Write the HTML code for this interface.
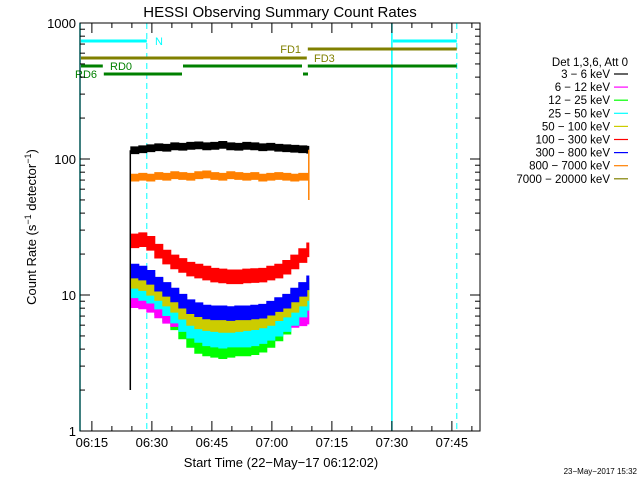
<!DOCTYPE html>
<html><head><meta charset="utf-8"><style>
body{margin:0;background:#fff;}
svg{display:block;font-family:"Liberation Sans",sans-serif;}
</style></head><body>
<svg id="chart" width="640" height="480" viewBox="0 0 640 480" xmlns="http://www.w3.org/2000/svg">
<rect x="0" y="0" width="640" height="480" fill="#fff"/>
<text x="280" y="17" font-size="15" text-anchor="middle">HESSI Observing Summary Count Rates</text>
<g id="marks"></g>
<g id="axes"></g>
<text transform="translate(36,227) rotate(-90)" font-size="13" text-anchor="middle">Count Rate (s<tspan dy="-5" font-size="9">−1</tspan><tspan dy="5"> detector</tspan><tspan dy="-5" font-size="9">−1</tspan><tspan dy="5">)</tspan></text>
<text x="281" y="467" font-size="13" text-anchor="middle">Start Time (22−May−17 06:12:02)</text>
<text x="637" y="474" font-size="8" text-anchor="end">23−May−2017 15:32</text>
<g id="legend"></g>
</svg>
<script>
// ---- data ----
const sampleTimes = [12.7,14.7,16.7,18.7,20.7,22.7,24.7,26.7,28.7,30.7,32.7,34.7,36.7,38.7,40.7,42.7,44.7,46.7,48.7,50.7,52.7,54.7,56.7]; // minutes since 06:12:02
const rate3to6 = [116,118,120,122,121,124,123,125,126,124,125,127,124,123,125,124,122,123,121,120,119,118,117];
const rate6to12 = [9.5,9.3,8.8,8,7.3,6.9,6.6,6.3,6.1,6,6,5.9,6,6,6,6.1,6.1,6.2,6.4,6.6,6.8,7,7.2];
const rate12to25 = [12,11.5,10.5,9,8,7,6,5.2,4.7,4.5,4.4,4.3,4.4,4.5,4.5,4.6,4.8,5.2,5.8,6.5,7.5,8.5,9.8];
const rate25to50 = [11.5,11,10.5,9.5,8.5,7.5,6.5,5.8,5.4,5.1,5,4.9,5,5,5,5.1,5.3,5.6,6,6.5,7.2,8.3,9.3];
const rate50to100 = [13.5,13,12,11,10,9,8,7.2,6.8,6.6,6.5,6.4,6.4,6.5,6.6,6.7,6.9,7.2,7.8,8.3,9,10,11];
const rate100to300 = [25,25.5,24,21,19,17.5,16.5,15.5,15,14.5,14,13.8,13.6,13.6,13.8,13.9,14,14.5,15,16,17.5,19.5,21.5];
const rate300to800 = [15,14.5,13.5,12,11,10,9,8.2,7.8,7.5,7.4,7.4,7.3,7.4,7.4,7.5,7.6,8,8.5,9,10,11,12.3];
const rate800to7000 = [73,74,73,75,74,76,75,74,76,77,75,74,76,75,74,75,73,74,75,74,73,74,74];
const noiseDecades = [0.025,0.07,0.1,0.08,0.08,0.05,0.05,0.025];
const bandLabels = ["3 − 6 keV","6 − 12 keV","12 − 25 keV","25 − 50 keV","50 − 100 keV","100 − 300 keV","300 − 800 keV","800 − 7000 keV","7000 − 20000 keV"];
const yTickValues = [1,10,100,1000];
const xTickLabels = ["06:15","06:30","06:45","07:00","07:15","07:30","07:45"];
const xTickMinutes = [2.97,17.97,32.97,47.97,62.97,77.97,92.97];
const flagN = [[0,16.7],[77.97,94.2]];
const flagFD1 = [[56.7,94.2]];
const flagFD3 = [[0,56.7]];
const flagRD0 = [[0,5.7],[25.5,55.5],[56.7,94.2]];
const flagRD6 = [[5.7,25.5],[55.5,57]];

const NS="http://www.w3.org/2000/svg";
const X0=80,X1=480,Y0=23,Y1=431;
function xs(t){return X0+t*4;}
function ys(v){return Y1-(Y1-Y0)/3*Math.log10(v);}
function mk(tag,attrs,parent){const e=document.createElementNS(NS,tag);for(const k in attrs)e.setAttribute(k,attrs[k]);parent.appendChild(e);return e;}
const marks=document.getElementById('marks'),axes=document.getElementById('axes'),legend=document.getElementById('legend');

[[0,false],[77.97,false],[16.7,true],[94.2,true]].forEach(([t,d])=>{
  const l=mk('line',{x1:xs(t),x2:xs(t),y1:Y0,y2:Y1,stroke:'#00ffff','stroke-width':d?1:1.5,'stroke-dasharray':d?'6,4':'none'},marks);
  
  
});
function flags(arr,y,color,w,name){arr.forEach(s=>{
  const l=mk('line',{x1:xs(s[0])+1,x2:xs(s[1]),y1:y,y2:y,stroke:color,'stroke-width':w},marks);
  
  
});}
flags(flagN,41,'#00ffff',3,'flag-n-bar');
flags(flagFD1,49,'#808000',3,'flag-fd1-bar');
flags(flagFD3,58,'#808000',3,'flag-fd3-bar');
flags(flagRD0,66,'#008000',3,'flag-rd0-bar');
flags(flagRD6,74,'#008000',3,'flag-rd6-bar');
[["N",155,45,'#00ffff','start'],["FD1",301,53,'#808000','end'],["FD3",314,62,'#808000','start'],["RD0",110,70,'#008000','start'],["RD6",75,78,'#008000','start']].forEach(f=>{
  const t=mk('text',{x:f[1],y:f[2],fill:f[3],'font-size':11,'text-anchor':f[4]},marks);t.textContent=f[0];
  
  
});

const series=[
 [rate12to25,'#00ff00',2,'series-12-25-kev'],
 [rate6to12,'#ff00ff',1,'series-6-12-kev'],
 [rate25to50,'#00ffff',3,'series-25-50-kev'],
 [rate50to100,'#cccc00',4,'series-50-100-kev'],
 [rate300to800,'#0000ff',6,'series-300-800-kev'],
 [rate100to300,'#ff0000',5,'series-100-300-kev'],
 [rate800to7000,'#ff8000',7,'series-800-7000-kev'],
 [rate3to6,'#000000',0,'series-3-6-kev']];
series.forEach(([vals,color,ni,name])=>{
  const n=noiseDecades[ni];let top='',bot='';
  for(let i=0;i<vals.length;i++){
    const xa=xs(sampleTimes[i]),xb=xs(i<vals.length-1?sampleTimes[i+1]:sampleTimes[i]+0.5);
    const hi=ys(vals[i]*Math.pow(10,n)),lo=ys(vals[i]/Math.pow(10,n));
    top+=(i?' L':'M')+xa+','+hi+' L'+xb+','+hi;
    bot=' L'+xb+','+lo+' L'+xa+','+lo+bot;
  }
  const p=mk('path',{d:top+bot+' Z',fill:color,stroke:color,'stroke-width':1},marks);
  
  
});
const sv=mk('line',{x1:xs(sampleTimes[0])-0.5,x2:xs(sampleTimes[0])-0.5,y1:390,y2:ys(rate3to6[0]),stroke:'#000','stroke-width':1.5},marks);


const ev=mk('line',{x1:xs(sampleTimes[22])+2,x2:xs(sampleTimes[22])+2,y1:ys(rate3to6[22]),y2:200,stroke:'#ff8000','stroke-width':1.5},marks);



const box=mk('rect',{x:X0,y:Y0,width:X1-X0,height:Y1-Y0,fill:'none',stroke:'#000','stroke-width':1},axes);


yTickValues.forEach(v=>{
  [[X0,X0+10],[X1,X1-10]].forEach(([a,b])=>mk('line',{x1:a,x2:b,y1:ys(v),y2:ys(v),stroke:'#000'},axes));
  const t=mk('text',{x:X0-4,y:ys(v)+5,'font-size':13,'text-anchor':'end'},axes);t.textContent=String(v);
  
  
  if(v<1000)for(let m=2;m<=9;m++){const y=ys(v*m);
    mk('line',{x1:X0,x2:X0+5,y1:y,y2:y,stroke:'#000'},axes);mk('line',{x1:X1,x2:X1-5,y1:y,y2:y,stroke:'#000'},axes);}
});
for(let t=xTickMinutes[0]-15;t<=100;t+=5){ if(t<0)continue;
  const major=xTickMinutes.some(m=>Math.abs(m-t)<0.01);const L=major?10:5;
  mk('line',{x1:xs(t),x2:xs(t),y1:Y1,y2:Y1-L,stroke:'#000'},axes);
  mk('line',{x1:xs(t),x2:xs(t),y1:Y0,y2:Y0+L,stroke:'#000'},axes);
}
xTickLabels.forEach((lab,i)=>{
  const t=mk('text',{x:xs(xTickMinutes[i]),y:447,'font-size':13,'text-anchor':'middle'},axes);t.textContent=lab;
  
  
});
const lh=mk('text',{x:628,y:66,'font-size':11.5,'text-anchor':'end'},legend);lh.textContent="Det 1,3,6, Att 0";


const legColors=['#000000','#ff00ff','#00ff00','#00ffff','#cccc00','#ff0000','#0000ff','#ff8000','#808000'];
bandLabels.forEach((lab,i)=>{
  const y=74+i*13.1;
  const t=mk('text',{x:610,y:y+4,'font-size':11.5,'text-anchor':'end'},legend);t.textContent=lab;
  
  
  mk('line',{x1:614,x2:628,y1:y,y2:y,stroke:legColors[i],'stroke-width':1.2},legend);
});
</script>
</body></html>
